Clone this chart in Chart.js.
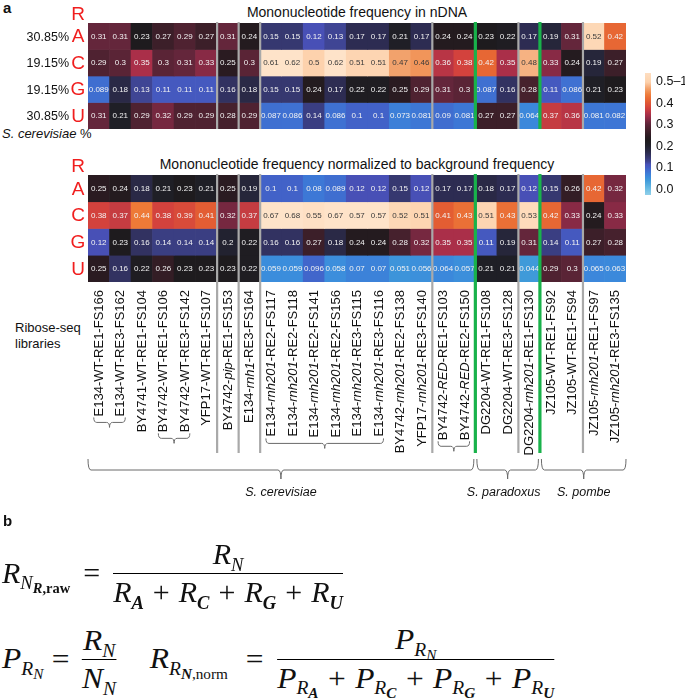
<!DOCTYPE html>
<html>
<head>
<meta charset="utf-8">
<script src="https://cdn.jsdelivr.net/npm/chart.js@4/dist/chart.umd.min.js"></script>
<style>
  html, body { margin: 0; padding: 0; background: #fff; }
  body { width: 685px; height: 700px; position: relative; overflow: hidden;
         font-family: "Liberation Sans", Arial, sans-serif; color: #111; }
  canvas { position: absolute; left: 0; }
  .abs { position: absolute; white-space: nowrap; }
  .panel { font-weight: bold; font-size: 15px; }
  .title { left: 88px; width: 538px; text-align: center; font-size: 14px; }
  .small { font-size: 13px; }
  .tick { font-size: 12.5px; }
  #cbar { position: absolute; left: 645px; top: 73px; width: 6px; height: 122px; }
  .eq { position: absolute; display: flex; align-items: center; white-space: nowrap;
        font-family: "Liberation Serif", "DejaVu Serif", serif; font-style: italic;
        font-size: 30px; line-height: 1; transform-origin: 0 50%; }
  .eq sub { font-size: 0.62em; vertical-align: -0.35em; line-height: 0; }
  .eq sub sub { font-size: 0.78em; vertical-align: -0.3em; }
  .eq b { font-weight: bold; }
  .eq .up { font-style: normal; }
  .eq .op { font-style: normal; margin: 0 13px; }
  .eq .plus { font-style: normal; margin: 0 9px; }
  .frac { display: inline-flex; flex-direction: column; align-items: center; }
  .frac .bar { align-self: stretch; height: 0; border-top: 1.6px solid #000; margin: 4px 0 3px; }
</style>
</head>
<body>

<div class="abs panel" style="left:3px;top:-1px">a</div>
<div class="abs title" style="top:4px">Mononucleotide frequency in nDNA</div>
<div class="abs title" style="top:156px">Mononucleotide frequency normalized to background frequency</div>
<div class="abs small" style="left:2px;top:126px"><i>S. cerevisiae</i> %</div>
<div class="abs small" style="left:15px;top:320px;line-height:16px">Ribose-seq<br>libraries</div>

<canvas id="heatRaw" width="685" height="140" style="top:0"></canvas>
<canvas id="heatNorm" width="685" height="380" style="top:140px"></canvas>

<div id="cbar"></div>

<div class="abs panel" style="left:3px;top:512px">b</div>

<div class="eq" style="left:2px;top:539px">
  <span>R<sub>N<sub><b>R</b><b class="up">,raw</b></sub></sub></span>
  <span class="op">=</span>
  <span class="frac">
    <span>R<sub>N</sub></span>
    <span class="bar"></span>
    <span>R<sub><b>A</b></sub><span class="plus">+</span>R<sub><b>C</b></sub><span class="plus">+</span>R<sub><b>G</b></sub><span class="plus">+</span>R<sub><b>U</b></sub></span>
  </span>
</div>

<div class="eq" style="left:2px;top:624px;transform:scaleX(1.05)">
  <span>P<sub>R<sub>N</sub></sub></span>
  <span class="op" style="margin:0 12px 0 8px">=</span>
  <span class="frac">
    <span>R<sub>N</sub></span>
    <span class="bar"></span>
    <span>N<sub>N</sub></span>
  </span>
  <span style="margin-left:32px">R<sub>R<sub><b>N</b><span class="up">,norm</span></sub></sub></span>
  <span class="op" style="margin:0 13px 0 17px">=</span>
  <span class="frac">
    <span>P<sub>R<sub>N</sub></sub></span>
    <span class="bar"></span>
    <span>P<sub>R<sub><b>A</b></sub></sub><span class="plus">+</span>P<sub>R<sub><b>C</b></sub></sub><span class="plus">+</span>P<sub>R<sub><b>G</b></sub></sub><span class="plus">+</span>P<sub>R<sub><b>U</b></sub></sub></span>
  </span>
</div>

<script>
/* ---- Data ---------------------------------------------------- */

const nucleotides = ['A', 'C', 'G', 'U'];
const genomePercent = ['30.85%', '19.15%', '19.15%', '30.85%'];

// *...* marks the italic part of a library name
const libraries = [
  'E134-WT-RE1-FS166', 'E134-WT-RE3-FS162', 'BY4741-WT-RE1-FS104', 'BY4742-WT-RE1-FS106',
  'BY4742-WT-RE3-FS142', 'YFP17-WT-RE1-FS107', 'BY4742-*pip*-RE1-FS153', 'E134-*rnh1*-RE3-FS164',
  'E134-*rnh201*-RE2-FS117', 'E134-*rnh201*-RE2-FS118', 'E134-*rnh201*-RE2-FS141', 'E134-*rnh201*-RE2-FS156',
  'E134-*rnh201*-RE3-FS115', 'E134-*rnh201*-RE3-FS116', 'BY4742-*rnh201*-RE2-FS138', 'YFP17-*rnh201*-RE3-FS140',
  'BY4742-*RED*-RE1-FS103', 'BY4742-*RED*-RE2-FS150', 'DG2204-WT-RE1-FS108', 'DG2204-WT-RE3-FS128',
  'DG2204-*rnh201*-RE1-FS130', 'JZ105-WT-RE1-FS92', 'JZ105-WT-RE1-FS94', 'JZ105-*rnh201*-RE1-FS97',
  'JZ105-*rnh201*-RE3-FS135'
];

const rawA = [0.31, 0.31, 0.23, 0.27, 0.29, 0.27, 0.31, 0.24, 0.15, 0.15, 0.12, 0.13, 0.17, 0.17, 0.21, 0.17, 0.24, 0.24, 0.23, 0.22, 0.17, 0.19, 0.31, 0.52, 0.42];
const rawC = [0.29, 0.3, 0.35, 0.3, 0.31, 0.33, 0.25, 0.3, 0.61, 0.62, 0.5, 0.62, 0.51, 0.51, 0.47, 0.46, 0.36, 0.38, 0.42, 0.35, 0.48, 0.33, 0.24, 0.19, 0.27];
const rawG = [0.089, 0.18, 0.13, 0.11, 0.11, 0.11, 0.16, 0.18, 0.15, 0.15, 0.24, 0.17, 0.22, 0.22, 0.25, 0.29, 0.31, 0.3, 0.087, 0.16, 0.28, 0.11, 0.086, 0.21, 0.23];
const rawU = [0.31, 0.21, 0.29, 0.32, 0.29, 0.29, 0.28, 0.29, 0.087, 0.086, 0.14, 0.086, 0.1, 0.1, 0.073, 0.081, 0.09, 0.081, 0.27, 0.27, 0.064, 0.37, 0.36, 0.081, 0.082];

const normA = [0.25, 0.24, 0.18, 0.21, 0.23, 0.21, 0.25, 0.19, 0.1, 0.1, 0.08, 0.089, 0.12, 0.12, 0.15, 0.12, 0.17, 0.17, 0.18, 0.17, 0.12, 0.15, 0.26, 0.42, 0.32];
const normC = [0.38, 0.37, 0.44, 0.38, 0.39, 0.41, 0.32, 0.37, 0.67, 0.68, 0.55, 0.67, 0.57, 0.57, 0.52, 0.51, 0.41, 0.43, 0.51, 0.43, 0.53, 0.42, 0.33, 0.24, 0.33];
const normG = [0.12, 0.23, 0.16, 0.14, 0.14, 0.14, 0.2, 0.22, 0.16, 0.16, 0.27, 0.18, 0.24, 0.24, 0.28, 0.32, 0.35, 0.35, 0.11, 0.19, 0.31, 0.14, 0.11, 0.27, 0.28];
const normU = [0.25, 0.16, 0.22, 0.26, 0.23, 0.23, 0.23, 0.22, 0.059, 0.059, 0.096, 0.058, 0.07, 0.07, 0.051, 0.056, 0.064, 0.057, 0.21, 0.21, 0.044, 0.29, 0.3, 0.065, 0.063];

// column index after which a divider is drawn
const groupBreaks = [5, 6, 7, 15, 19, 22];
const speciesBreaks = [17, 20];

// replicate brackets under the labels (first, last column)
const replicateGroups = [[0, 1], [3, 4], [8, 13], [16, 17]];

const speciesNames = ['S. cerevisiae', 'S. paradoxus', 'S. pombe'];
const speciesSpans = [[0, 17], [18, 20], [21, 24]];

const colorbarTicks = [0, 0.1, 0.2, 0.3, 0.4, 0.5];
const colorbarLabels = ['0.0', '0.1', '0.2', '0.3', '0.4', '0.5\u20131'];

/* ---- Colour map (icefire-like, 0 .. 0.5) --------------------- */

const CMAP = [
  [-0.03, '#9ad3ea'], [0.0, '#72c2e6'], [0.044, '#3f9ad9'], [0.06, '#3b8cdc'],
  [0.08, '#3d78d6'], [0.1, '#4262c8'], [0.12, '#4850b6'], [0.13, '#3f4594'],
  [0.15, '#363870'], [0.17, '#2d2c52'], [0.19, '#26263a'], [0.21, '#1f1f26'],
  [0.23, '#1e1b1e'], [0.25, '#2a1b21'], [0.27, '#3c1f29'], [0.29, '#4f2231'],
  [0.31, '#64263b'], [0.33, '#882a45'], [0.35, '#aa2f49'], [0.38, '#d3423d'],
  [0.41, '#e35d33'], [0.44, '#ee7a37'], [0.47, '#f2a26c'], [0.5, '#fdd2ad'],
  [0.56, '#fee3c9']
];

function hexRgb(h) {
  return [1, 3, 5].map(i => parseInt(h.substr(i, 2), 16));
}

function cmap(v) {
  if (v <= CMAP[0][0]) return CMAP[0][1];
  for (let i = 1; i < CMAP.length; i++) {
    if (v <= CMAP[i][0]) {
      const [v0, c0] = CMAP[i - 1], [v1, c1] = CMAP[i];
      const t = (v - v0) / (v1 - v0);
      const a = hexRgb(c0), b = hexRgb(c1);
      return 'rgb(' + a.map((x, k) => Math.round(x + (b[k] - x) * t)).join(',') + ')';
    }
  }
  return CMAP[CMAP.length - 1][1];
}

/* ---- Plugins ------------------------------------------------- */

const SANS = '"Liberation Sans", Arial, sans-serif';
const GRAY = '#a9a9a9', GREEN = '#19b24b';

const cellText = {
  id: 'cellText',
  afterDatasetsDraw(chart) {
    const ctx = chart.ctx;
    ctx.save();
    ctx.font = '8px ' + SANS;
    ctx.textAlign = 'center';
    ctx.textBaseline = 'middle';
    chart.data.datasets.forEach((ds, i) => {
      chart.getDatasetMeta(i).data.forEach((bar, j) => {
        const v = ds.values[j];
        ctx.fillStyle = v >= 0.45 ? '#3a3a3a' : '#f2f2f2';
        ctx.fillText(String(v), bar.x, (bar.y + bar.base) / 2 + 0.5);
      });
    });
    ctx.restore();
  }
};

function boundaryX(chart, j) {
  const x = chart.scales.x;
  return (x.getPixelForValue(j) + x.getPixelForValue(j + 1)) / 2;
}

const dividers = {
  id: 'dividers',
  afterDatasetsDraw(chart, args, opts) {
    const ctx = chart.ctx, area = chart.chartArea;
    const bottom = area.bottom + (opts.extend || 0);
    ctx.save();
    groupBreaks.forEach(j => {
      ctx.strokeStyle = GRAY; ctx.lineWidth = 2.2;
      ctx.beginPath();
      ctx.moveTo(boundaryX(chart, j), area.top - 1);
      ctx.lineTo(boundaryX(chart, j), bottom);
      ctx.stroke();
    });
    speciesBreaks.forEach(j => {
      ctx.strokeStyle = GREEN; ctx.lineWidth = 3.2;
      ctx.beginPath();
      ctx.moveTo(boundaryX(chart, j), area.top - 1);
      ctx.lineTo(boundaryX(chart, j), bottom);
      ctx.stroke();
    });
    ctx.restore();
  }
};

const rowLabels = {
  id: 'rowLabels',
  afterDraw(chart, args, opts) {
    const ctx = chart.ctx, y = chart.scales.y, left = chart.chartArea.left;
    ctx.save();
    ctx.textBaseline = 'middle';
    ctx.textAlign = 'center';
    ctx.fillStyle = '#f01e1e';
    ctx.font = '19px ' + SANS;
    ctx.fillText('R', left - 10, chart.chartArea.top - 8);
    nucleotides.forEach((n, i) => ctx.fillText(n, left - 10, y.getPixelForValue(i + 0.5) + 1));
    if (opts.percent) {
      ctx.fillStyle = '#111';
      ctx.font = '12.5px ' + SANS;
      ctx.textAlign = 'right';
      opts.percent.forEach((p, i) => ctx.fillText(p, left - 19, y.getPixelForValue(i + 0.5) + 1));
    }
    ctx.restore();
  }
};

// draws a curly bracket: hooks up at both ends, tick down in the middle
function brace(ctx, x0, x1, y, hook, tick) {
  const xm = (x0 + x1) / 2, r = Math.min(3, (x1 - x0) / 6);
  ctx.beginPath();
  ctx.moveTo(x0, y - hook);
  ctx.quadraticCurveTo(x0, y, x0 + r, y);
  ctx.lineTo(xm - r, y);
  ctx.quadraticCurveTo(xm, y, xm, y + tick);
  ctx.quadraticCurveTo(xm, y, xm + r, y);
  ctx.lineTo(x1 - r, y);
  ctx.quadraticCurveTo(x1, y, x1, y - hook);
  ctx.stroke();
}

function labelParts(name) {
  return name.split('*').map((t, k) => ({ text: t, italic: k % 2 === 1 }));
}

const libraryLabels = {
  id: 'libraryLabels',
  afterDraw(chart) {
    const ctx = chart.ctx, xs = chart.scales.x;
    const top = chart.chartArea.bottom + 8;
    const widths = [];
    ctx.save();
    ctx.fillStyle = '#111';
    ctx.textBaseline = 'middle';
    ctx.textAlign = 'left';
    libraries.forEach((name, j) => {
      const parts = labelParts(name);
      let total = 0;
      parts.forEach(p => {
        ctx.font = (p.italic ? 'italic ' : '') + '13px ' + SANS;
        p.w = ctx.measureText(p.text).width;
        total += p.w;
      });
      widths.push(total);
      ctx.save();
      ctx.translate(xs.getPixelForValue(j) + 0.5, top);
      ctx.rotate(-Math.PI / 2);
      let cx = -total;
      parts.forEach(p => {
        ctx.font = (p.italic ? 'italic ' : '') + '13px ' + SANS;
        ctx.fillText(p.text, cx, 0);
        cx += p.w;
      });
      ctx.restore();
    });

    ctx.strokeStyle = '#6a6a6a';
    ctx.lineWidth = 1;
    replicateGroups.forEach(([a, b]) => {
      const y = top + Math.max(...widths.slice(a, b + 1)) + 6;
      brace(ctx, xs.getPixelForValue(a) - 5, xs.getPixelForValue(b) + 5, y, 5, 5);
    });

    const by = chart.chartArea.bottom + 188;
    ctx.font = 'italic 12.5px ' + SANS;
    ctx.textAlign = 'center';
    speciesSpans.forEach(([a, b], k) => {
      const x0 = a === 0 ? chart.chartArea.left : boundaryX(chart, a - 1) + 1.5;
      const x1 = b === libraries.length - 1 ? chart.chartArea.right : boundaryX(chart, b) - 1.5;
      brace(ctx, x0, x1, by, 11, 9);
      ctx.fillText(speciesNames[k], (x0 + x1) / 2 - (k === 1 ? 4 : 0), by + 23);
    });
    ctx.restore();
  }
};

/* ---- Heatmaps ------------------------------------------------ */

function heatmap(id, rows, padding, extras) {
  return new Chart(document.getElementById(id), {
    type: 'bar',
    data: {
      labels: libraries,
      datasets: rows.map((vals, i) => ({
        label: nucleotides[i],
        values: vals,
        data: vals.map(() => [i, i + 1]),
        backgroundColor: vals.map(cmap),
        borderWidth: 0,
        grouped: false,
        barPercentage: 1,
        categoryPercentage: 1,
      })),
    },
    options: {
      responsive: false, animation: false,
      layout: { padding },
      plugins: Object.assign({ legend: { display: false }, tooltip: { enabled: false } }, extras),
      scales: {
        x: { display: false },
        y: { display: false, min: 0, max: 4, reverse: true },
      },
    },
    plugins: [cellText, dividers, rowLabels].concat(extras.libraryLabels ? [libraryLabels] : []),
  });
}

heatmap('heatRaw', [rawA, rawC, rawG, rawU],
  { left: 88, right: 59, top: 23, bottom: 11 },
  { rowLabels: { percent: genomePercent }, dividers: { extend: 0 } });

heatmap('heatNorm', [normA, normC, normG, normU],
  { left: 88, right: 59, top: 35, bottom: 238 },
  { rowLabels: {}, dividers: { extend: 171 }, libraryLabels: {} });

/* ---- Colour bar ---------------------------------------------- */

(function () {
  const bar = document.getElementById('cbar');
  const vLow = -0.023, vHigh = 0.542, top = 73, h = 122;
  const stops = [];
  for (let k = 0; k <= 40; k++) {
    const v = vLow + (vHigh - vLow) * k / 40;
    stops.push(cmap(v) + ' ' + (k * 2.5) + '%');
  }
  bar.style.background = 'linear-gradient(to top,' + stops.join(',') + ')';
  colorbarTicks.forEach((t, i) => {
    const el = document.createElement('div');
    el.className = 'abs tick';
    el.style.left = '656px';
    el.style.top = (top + h - (t - vLow) / (vHigh - vLow) * h - 8) + 'px';
    el.textContent = colorbarLabels[i];
    document.body.appendChild(el);
  });
})();
</script>
</body>
</html>
